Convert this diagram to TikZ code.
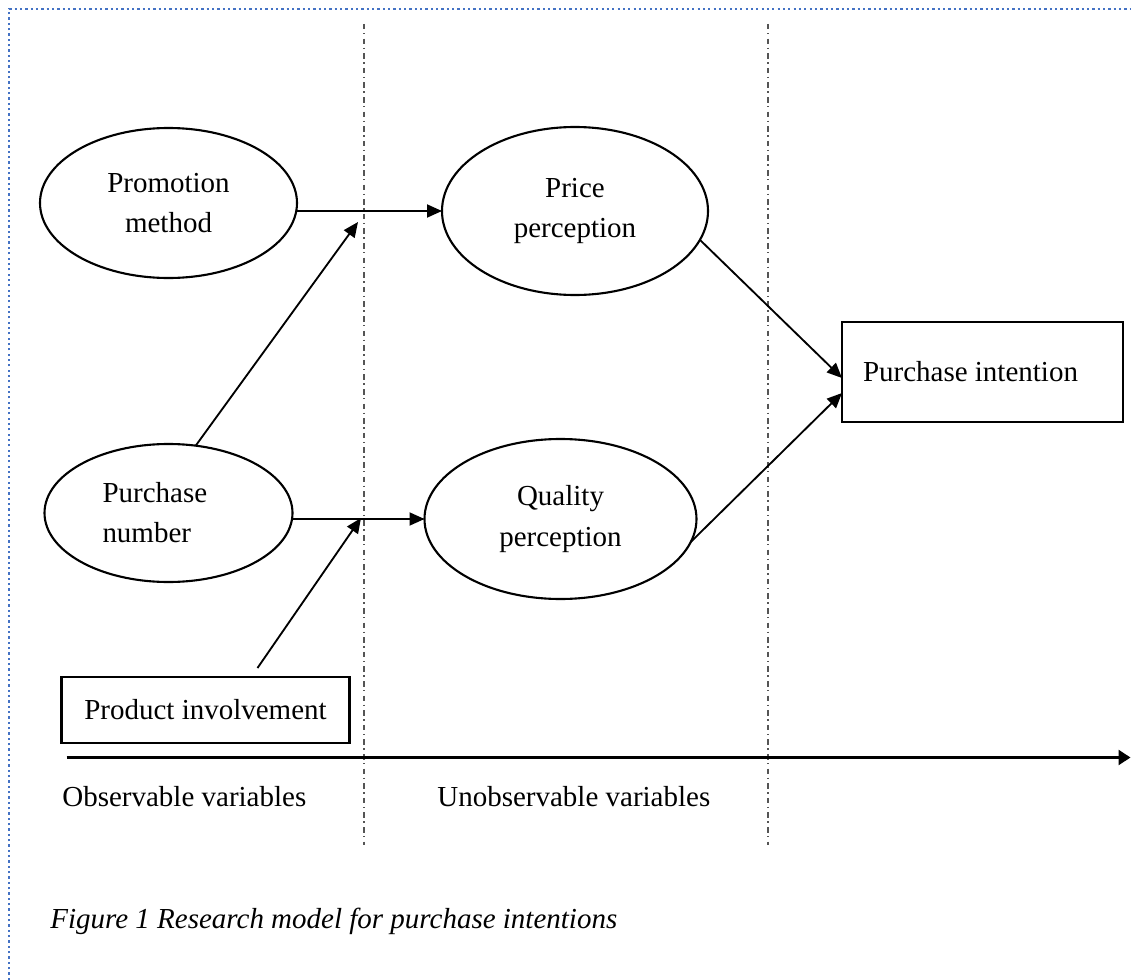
\documentclass[tikz,border=0pt]{standalone}
\usepackage{fontspec}
\setmainfont{Liberation Serif}
\usetikzlibrary{positioning,shapes.geometric,arrows.meta}
\definecolor{frameblue}{RGB}{68,114,196}
\definecolor{dashgray}{RGB}{85,85,85}

\begin{document}
\begin{tikzpicture}[
  every node/.style={font=\fontsize{16.5pt}{22.8pt}\selectfont},
  oval/.style={ellipse, draw, line width=1.2pt, outer sep=0pt, align=center},
  sqbox/.style={rectangle, draw, line width=1.3pt, outer sep=0pt},
  arr/.style={-{Triangle[length=0.3cm,width=0.26cm]}, line width=1.05pt},
  timeline/.style={-{Triangle[length=0.24cm,width=0.3cm]}, line width=1.5pt},
  divider/.style={dashgray, line width=0.65pt,
                  dash pattern=on 0.11cm off 0.07cm on 0.026cm off 0.086cm},
  plain/.style={anchor=base west, inner sep=0pt}
]
\useasboundingbox (0,0) rectangle (22.62,-19.6);

% dotted frame, top and left only
\draw[frameblue, line width=0.045cm, dash pattern=on 0.045cm off 0.0617cm]
  (0.186,-19.6) -- (0.186,-0.18) -- (22.62,-0.18);

\foreach \x in {7.28,15.36}
  \draw[divider] (\x,-0.48) -- (\x,-16.9);

\node[oval, minimum width=5.14cm, minimum height=3cm] (PM) at (3.37,-4.06) {Promotion\\method};
\node[oval, minimum width=5.32cm, minimum height=3.36cm, right=2.9cm of PM, yshift=-0.16cm] (PP) {Price\\perception};
\node[oval, minimum width=4.96cm, minimum height=2.76cm, below=3.32cm of PM,
      align=flush left, text width=2.64cm] (PN) {Purchase\\number};
\node[oval, minimum width=5.44cm, minimum height=3.2cm, right=2.64cm of PN, yshift=-0.12cm] (QP) {Quality\\perception};
\node[sqbox, minimum width=5.76cm, minimum height=1.32cm, below=1.9cm of PN, xshift=0.74cm] (PV) {Product involvement};
\node[sqbox, minimum width=5.62cm, minimum height=2cm, right=2.68cm of PP, yshift=-3.22cm,
      align=flush left, text width=4.78cm] (PI) {Purchase intention};

\coordinate (upMeet)  at (7.16,-4.44);
\coordinate (lowMeet) at (7.22,-10.36);

\draw[arr] (PM.east |- PP.west) -- (PP.west);
\draw[arr] (PN.68) -- (upMeet);
\draw[arr] (PN.east |- QP.west) -- (QP.west);
\draw[arr] ([xshift=1.04cm,yshift=0.18cm]PV.north) -- (lowMeet);
\draw[arr] (PP.-13) -- ([yshift=-0.12cm]PI.west);
\draw[arr] (QP.-10) -- ([yshift=-0.42cm]PI.west);

% axis with the two groups of variables
\coordinate (axisL) at (1.334,-15.15);
\coordinate (axisR) at (22.61,-15.15);
\draw[timeline] (axisL) -- (axisR);

\node[plain] (obs)   at (1.24,-16.12) {Observable variables};
\node[plain] (unobs) at (8.74,-16.12) {Unobservable variables};

\node[plain, font=\fontsize{16.5pt}{22.8pt}\selectfont\itshape] (caption) at (1.0,-18.56)
  {Figure 1 Research model for purchase intentions};

\end{tikzpicture}
\end{document}
